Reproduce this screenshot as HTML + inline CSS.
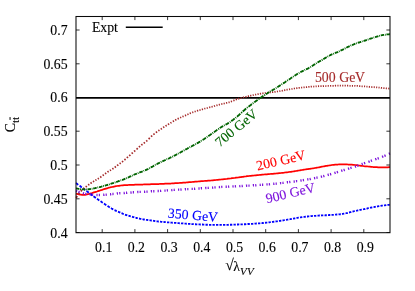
<!DOCTYPE html>
<html><head><meta charset="utf-8"><title>plot</title>
<style>html,body{margin:0;padding:0;background:#fff;width:415px;height:291px;overflow:hidden}</style></head>
<body>
<svg width="415" height="291" viewBox="0 0 415 291" style="display:block;position:absolute;left:0;top:0;will-change:transform;opacity:0.999">
<path d="M102.2,232.7 v-3.6 M102.2,16.5 v3.6 M134.9,232.7 v-3.6 M134.9,16.5 v3.6 M167.6,232.7 v-3.6 M167.6,16.5 v3.6 M200.3,232.7 v-3.6 M200.3,16.5 v3.6 M233.0,232.7 v-3.6 M233.0,16.5 v3.6 M265.7,232.7 v-3.6 M265.7,16.5 v3.6 M298.4,232.7 v-3.6 M298.4,16.5 v3.6 M331.1,232.7 v-3.6 M331.1,16.5 v3.6 M363.8,232.7 v-3.6 M363.8,16.5 v3.6 M76.0,232.5 h3.6 M390.0,232.5 h-3.6 M76.0,198.8 h3.6 M390.0,198.8 h-3.6 M76.0,165.0 h3.6 M390.0,165.0 h-3.6 M76.0,131.2 h3.6 M390.0,131.2 h-3.6 M76.0,97.5 h3.6 M390.0,97.5 h-3.6 M76.0,63.8 h3.6 M390.0,63.8 h-3.6 M76.0,30.0 h3.6 M390.0,30.0 h-3.6" stroke="#000" stroke-width="0.8" fill="none"/>
<path d="M76.0,97.8 H390.0" stroke="#000" stroke-width="1.7" fill="none"/>
<path d="M125.8,27.2 H162.7" stroke="#000" stroke-width="1.6" fill="none"/>
<g fill="none" stroke-linejoin="round" clip-path="url(#cp)">
<path d="M76.0,193.6 L77.0,193.9 L78.0,194.2 L79.0,194.4 L80.0,194.6 L81.0,194.7 L82.0,194.8 L83.0,194.9 L84.0,194.9 L85.0,194.8 L86.0,194.6 L87.0,194.4 L88.0,194.2 L89.0,194.0 L90.0,193.7 L91.0,193.4 L92.0,193.1 L93.0,192.7 L94.0,192.4 L95.0,192.1 L96.0,191.8 L97.0,191.5 L98.0,191.1 L99.0,190.8 L100.0,190.5 L101.0,190.2 L102.0,189.9 L103.0,189.5 L104.0,189.2 L105.0,188.9 L106.0,188.6 L107.0,188.3 L108.0,188.0 L109.0,187.7 L110.0,187.5 L111.0,187.2 L112.0,187.0 L113.0,186.8 L114.0,186.6 L115.0,186.4 L116.0,186.2 L117.0,186.0 L118.0,185.9 L119.0,185.8 L120.0,185.6 L121.0,185.5 L122.0,185.4 L123.0,185.3 L124.0,185.2 L125.0,185.1 L126.0,185.1 L127.0,185.0 L128.0,185.0 L129.0,184.9 L130.0,184.9 L131.0,184.9 L132.0,184.8 L133.0,184.8 L134.0,184.8 L135.0,184.7 L136.0,184.7 L137.0,184.7 L138.0,184.6 L139.0,184.6 L140.0,184.6 L141.0,184.5 L142.0,184.5 L143.0,184.5 L144.0,184.4 L145.0,184.4 L146.0,184.4 L147.0,184.3 L148.0,184.3 L149.0,184.3 L150.0,184.3 L151.0,184.2 L152.0,184.2 L153.0,184.2 L154.0,184.1 L155.0,184.1 L156.0,184.1 L157.0,184.0 L158.0,184.0 L159.0,184.0 L160.0,183.9 L161.0,183.9 L162.0,183.8 L163.0,183.8 L164.0,183.8 L165.0,183.7 L166.0,183.7 L167.0,183.6 L168.0,183.6 L169.0,183.5 L170.0,183.5 L171.0,183.5 L172.0,183.4 L173.0,183.4 L174.0,183.3 L175.0,183.2 L176.0,183.2 L177.0,183.1 L178.0,183.1 L179.0,183.0 L180.0,182.9 L181.0,182.8 L182.0,182.8 L183.0,182.7 L184.0,182.6 L185.0,182.5 L186.0,182.5 L187.0,182.4 L188.0,182.3 L189.0,182.2 L190.0,182.1 L191.0,182.1 L192.0,182.0 L193.0,181.9 L194.0,181.8 L195.0,181.7 L196.0,181.6 L197.0,181.6 L198.0,181.5 L199.0,181.4 L200.0,181.3 L201.0,181.2 L202.0,181.2 L203.0,181.1 L204.0,181.0 L205.0,180.9 L206.0,180.9 L207.0,180.8 L208.0,180.7 L209.0,180.6 L210.0,180.6 L211.0,180.5 L212.0,180.4 L213.0,180.3 L214.0,180.2 L215.0,180.1 L216.0,180.0 L217.0,179.9 L218.0,179.8 L219.0,179.7 L220.0,179.6 L221.0,179.5 L222.0,179.4 L223.0,179.3 L224.0,179.2 L225.0,179.1 L226.0,179.0 L227.0,178.9 L228.0,178.7 L229.0,178.6 L230.0,178.5 L231.0,178.4 L232.0,178.2 L233.0,178.1 L234.0,178.0 L235.0,177.9 L236.0,177.7 L237.0,177.6 L238.0,177.5 L239.0,177.3 L240.0,177.2 L241.0,177.1 L242.0,176.9 L243.0,176.8 L244.0,176.6 L245.0,176.5 L246.0,176.4 L247.0,176.2 L248.0,176.1 L249.0,176.0 L250.0,175.9 L251.0,175.8 L252.0,175.7 L253.0,175.6 L254.0,175.5 L255.0,175.4 L256.0,175.3 L257.0,175.2 L258.0,175.1 L259.0,175.0 L260.0,174.9 L261.0,174.8 L262.0,174.7 L263.0,174.6 L264.0,174.5 L265.0,174.4 L266.0,174.3 L267.0,174.3 L268.0,174.2 L269.0,174.1 L270.0,174.0 L271.0,173.9 L272.0,173.8 L273.0,173.8 L274.0,173.7 L275.0,173.6 L276.0,173.5 L277.0,173.4 L278.0,173.3 L279.0,173.2 L280.0,173.1 L281.0,173.0 L282.0,172.9 L283.0,172.8 L284.0,172.7 L285.0,172.5 L286.0,172.4 L287.0,172.3 L288.0,172.2 L289.0,172.0 L290.0,171.9 L291.0,171.8 L292.0,171.6 L293.0,171.5 L294.0,171.3 L295.0,171.1 L296.0,171.0 L297.0,170.8 L298.0,170.6 L299.0,170.5 L300.0,170.3 L301.0,170.1 L302.0,170.0 L303.0,169.8 L304.0,169.6 L305.0,169.5 L306.0,169.3 L307.0,169.2 L308.0,169.1 L309.0,168.9 L310.0,168.8 L311.0,168.6 L312.0,168.5 L313.0,168.3 L314.0,168.2 L315.0,168.0 L316.0,167.8 L317.0,167.6 L318.0,167.5 L319.0,167.3 L320.0,167.1 L321.0,166.9 L322.0,166.7 L323.0,166.5 L324.0,166.3 L325.0,166.1 L326.0,165.9 L327.0,165.8 L328.0,165.6 L329.0,165.5 L330.0,165.3 L331.0,165.2 L332.0,165.0 L333.0,164.9 L334.0,164.8 L335.0,164.7 L336.0,164.6 L337.0,164.5 L338.0,164.5 L339.0,164.4 L340.0,164.3 L341.0,164.3 L342.0,164.3 L343.0,164.3 L344.0,164.3 L345.0,164.4 L346.0,164.4 L347.0,164.4 L348.0,164.5 L349.0,164.5 L350.0,164.6 L351.0,164.7 L352.0,164.7 L353.0,164.8 L354.0,164.9 L355.0,165.0 L356.0,165.1 L357.0,165.2 L358.0,165.3 L359.0,165.5 L360.0,165.6 L361.0,165.8 L362.0,165.9 L363.0,166.0 L364.0,166.2 L365.0,166.3 L366.0,166.3 L367.0,166.4 L368.0,166.5 L369.0,166.6 L370.0,166.7 L371.0,166.8 L372.0,166.9 L373.0,167.0 L374.0,167.0 L375.0,167.1 L376.0,167.2 L377.0,167.2 L378.0,167.3 L379.0,167.3 L380.0,167.3 L381.0,167.3 L382.0,167.3 L383.0,167.3 L384.0,167.3 L385.0,167.3 L386.0,167.3 L387.0,167.3 L388.0,167.3 L389.0,167.2 L390.0,167.2" stroke="#ff0000" stroke-width="1.75"/>
<path d="M76.0,183.1L76.6,183.5L77.2,183.9L77.7,184.4L78.3,184.8M79.5,185.7L80.1,186.1L80.7,186.5L81.2,187.0L81.8,187.4M83.0,188.3L83.6,188.7L84.2,189.2L84.7,189.6L85.3,190.0M86.5,190.9L87.1,191.4L87.7,191.8L88.2,192.3L88.8,192.7M90.0,193.6L90.6,194.1L91.2,194.5L91.7,195.0L92.3,195.4M93.5,196.3L94.1,196.7L94.7,197.1L95.2,197.6L95.8,198.0M97.0,198.8L97.6,199.2L98.2,199.6L98.7,200.0L99.3,200.4M100.5,201.2L101.1,201.6L101.7,202.0L102.2,202.4L102.8,202.8M104.0,203.6L104.6,204.0L105.2,204.4L105.7,204.8L106.3,205.2M107.5,205.9L108.1,206.3L108.7,206.7L109.2,207.0L109.8,207.4M111.0,208.1L111.6,208.5L112.2,208.8L112.7,209.1L113.3,209.4M114.5,210.1L115.1,210.3L115.7,210.6L116.2,210.9L116.8,211.1M118.0,211.7L118.6,211.9L119.2,212.2L119.7,212.4L120.3,212.7M121.5,213.2L122.1,213.4L122.7,213.7L123.2,213.9L123.8,214.1M125.0,214.6L125.6,214.8L126.2,215.0L126.7,215.1L127.3,215.3M128.5,215.7L129.1,215.9L129.7,216.0L130.2,216.2L130.8,216.4M132.0,216.7L132.6,216.9L133.2,217.1L133.7,217.2L134.3,217.4M135.5,217.7L136.1,217.8L136.7,218.0L137.2,218.1L137.8,218.2M139.0,218.5L139.6,218.6L140.2,218.8L140.7,218.9L141.3,219.0M142.5,219.2L143.1,219.3L143.7,219.5L144.2,219.5L144.8,219.6M146.0,219.8L146.6,219.9L147.2,219.9L147.7,220.0L148.3,220.1M149.5,220.2L150.1,220.3L150.7,220.4L151.2,220.5L151.8,220.5M153.0,220.7L153.6,220.8L154.2,220.9L154.7,221.0L155.3,221.1M156.5,221.3L157.1,221.3L157.7,221.4L158.2,221.5L158.8,221.5M160.0,221.6L160.6,221.7L161.2,221.8L161.7,221.8L162.3,221.9M163.5,222.0L164.1,222.0L164.7,222.1L165.2,222.1L165.8,222.2M167.0,222.3L167.6,222.3L168.2,222.4L168.7,222.4L169.3,222.4M170.5,222.5L171.1,222.6L171.7,222.6L172.2,222.7L172.8,222.7M174.0,222.8L174.6,222.8L175.2,222.9L175.7,222.9L176.3,223.0M177.5,223.1L178.1,223.1L178.7,223.1L179.2,223.2L179.8,223.2M181.0,223.3L181.6,223.4L182.2,223.4L182.7,223.4L183.3,223.5M184.5,223.6L185.1,223.6L185.7,223.6L186.2,223.7L186.8,223.7M188.0,223.8L188.6,223.8L189.2,223.9L189.7,223.9L190.3,224.0M191.5,224.0L192.1,224.1L192.7,224.1L193.2,224.1L193.8,224.2M195.0,224.2L195.6,224.2L196.2,224.3L196.7,224.3L197.3,224.3M198.5,224.4L199.1,224.4L199.7,224.4L200.2,224.5L200.8,224.5M202.0,224.5L202.6,224.5L203.2,224.6L203.7,224.6L204.3,224.6M205.5,224.7L206.1,224.7L206.7,224.7L207.2,224.7L207.8,224.7M209.0,224.8L209.6,224.8L210.2,224.8L210.7,224.8L211.3,224.8M212.5,224.8L213.1,224.8L213.7,224.8L214.2,224.8L214.8,224.8M216.0,224.8L216.6,224.8L217.2,224.8L217.7,224.8L218.3,224.8M219.5,224.8L220.1,224.8L220.7,224.8L221.2,224.8L221.8,224.8M223.0,224.8L223.6,224.8L224.2,224.8L224.7,224.8L225.3,224.8M226.5,224.8L227.1,224.8L227.7,224.8L228.2,224.8L228.8,224.7M230.0,224.7L230.6,224.7L231.2,224.7L231.7,224.7L232.3,224.6M233.5,224.6L234.1,224.6L234.7,224.6L235.2,224.6L235.8,224.5M237.0,224.5L237.6,224.5L238.2,224.5L238.7,224.4L239.3,224.4M240.5,224.4L241.1,224.4L241.7,224.3L242.2,224.3L242.8,224.3M244.0,224.2L244.6,224.2L245.2,224.2L245.7,224.2L246.3,224.1M247.5,224.1L248.1,224.0L248.7,224.0L249.2,224.0L249.8,224.0M251.0,223.9L251.6,223.9L252.2,223.8L252.7,223.8L253.3,223.7M254.5,223.7L255.1,223.6L255.7,223.6L256.2,223.5L256.8,223.5M258.0,223.4L258.6,223.4L259.1,223.3L259.7,223.3L260.3,223.2M261.5,223.1L262.1,223.1L262.6,223.0L263.2,223.0L263.8,222.9M265.0,222.8L265.6,222.7L266.1,222.7L266.7,222.6L267.3,222.6M268.5,222.4L269.1,222.3L269.6,222.3L270.2,222.2L270.8,222.1M272.0,222.0L272.6,221.9L273.1,221.8L273.7,221.7L274.3,221.7M275.5,221.5L276.1,221.4L276.6,221.3L277.2,221.3L277.8,221.2M279.0,221.0L279.6,220.9L280.1,220.8L280.7,220.7L281.3,220.7M282.5,220.5L283.1,220.4L283.6,220.3L284.2,220.2L284.8,220.1M286.0,219.9L286.6,219.8L287.1,219.7L287.7,219.6L288.3,219.5M289.5,219.3L290.1,219.2L290.6,219.1L291.2,219.0L291.8,218.9M293.0,218.7L293.6,218.6L294.1,218.5L294.7,218.4L295.3,218.3M296.5,218.0L297.1,217.9L297.6,217.8L298.2,217.7L298.8,217.6M300.0,217.4L300.6,217.3L301.1,217.3L301.7,217.2L302.3,217.1M303.5,216.9L304.1,216.9L304.6,216.8L305.2,216.7L305.8,216.7M307.0,216.5L307.6,216.5L308.1,216.4L308.7,216.3L309.3,216.3M310.5,216.2L311.1,216.1L311.6,216.1L312.2,216.0L312.8,216.0M314.0,215.9L314.6,215.8L315.1,215.8L315.7,215.8L316.3,215.7M317.5,215.6L318.1,215.6L318.6,215.6L319.2,215.5L319.8,215.5M321.0,215.5L321.6,215.4L322.1,215.4L322.7,215.4L323.3,215.4M324.5,215.3L325.1,215.3L325.6,215.2L326.2,215.2L326.8,215.2M328.0,215.1L328.6,215.1L329.1,215.0L329.7,215.0L330.3,215.0M331.5,214.9L332.1,214.9L332.6,214.8L333.2,214.8L333.8,214.8M335.0,214.7L335.6,214.6L336.1,214.6L336.7,214.5L337.3,214.5M338.5,214.4L339.1,214.3L339.6,214.3L340.2,214.2L340.8,214.2M342.0,214.0L342.6,213.9L343.1,213.8L343.7,213.7L344.3,213.6M345.5,213.3L346.1,213.2L346.6,213.1L347.2,213.0L347.8,212.8M349.0,212.5L349.6,212.4L350.1,212.2L350.7,212.1L351.3,211.9M352.5,211.6L353.1,211.5L353.6,211.3L354.2,211.2L354.8,211.1M356.0,210.8L356.6,210.7L357.1,210.6L357.7,210.4L358.3,210.3M359.5,210.1L360.1,209.9L360.6,209.8L361.2,209.7L361.8,209.6M363.0,209.3L363.6,209.2L364.1,209.1L364.7,209.0L365.3,208.8M366.5,208.6L367.1,208.5L367.6,208.4L368.2,208.2L368.8,208.1M370.0,207.9L370.6,207.7L371.1,207.6L371.7,207.5L372.3,207.4M373.5,207.1L374.1,207.0L374.6,206.9L375.2,206.8L375.8,206.7M377.0,206.5L377.6,206.4L378.1,206.3L378.7,206.2L379.3,206.1M380.5,205.9L381.1,205.8L381.6,205.7L382.2,205.6L382.8,205.6M384.0,205.4L384.6,205.3L385.1,205.3L385.7,205.2L386.3,205.1M387.5,205.0L388.1,204.9L388.6,204.8L389.2,204.8L389.8,204.7" stroke="#0000ff" stroke-width="1.85"/>
<path d="M76.0,198.0L76.6,197.0L77.2,196.1M78.4,194.3L79.0,193.5L79.6,192.8M80.8,191.3L81.4,190.7L82.0,190.1M83.3,188.9L83.8,188.4L84.4,188.0M85.7,186.9L86.3,186.5L86.8,186.0M88.1,185.1L88.7,184.7L89.3,184.3M90.5,183.4L91.1,183.0L91.7,182.6M92.9,181.8L93.5,181.5L94.1,181.1M95.4,180.4L95.9,180.0L96.5,179.7M97.8,178.9L98.4,178.5L98.9,178.2M100.2,177.4L100.8,177.0L101.4,176.6M102.6,175.6L103.2,175.2L103.8,174.8M105.0,173.8L105.6,173.4L106.2,173.0M107.5,172.1L108.0,171.7L108.6,171.3M109.9,170.6L110.5,170.2L111.0,169.9M112.3,169.1L112.9,168.7L113.5,168.3M114.7,167.4L115.3,167.0L115.9,166.6M117.1,165.7L117.7,165.2L118.3,164.8M119.6,163.8L120.1,163.4L120.7,162.9M122.0,161.9L122.6,161.5L123.1,161.0M124.4,159.9L125.0,159.5L125.6,159.0M126.8,157.9L127.4,157.4L128.0,156.9M129.2,155.8L129.8,155.3L130.4,154.8M131.7,153.7L132.2,153.2L132.8,152.6M134.1,151.5L134.7,151.0L135.2,150.5M136.5,149.3L137.1,148.8L137.7,148.2M138.9,147.1L139.5,146.6L140.1,146.1M141.3,145.2L141.9,144.7L142.5,144.3M143.8,143.4L144.3,142.9L144.9,142.4M146.2,141.3L146.8,140.8L147.3,140.3M148.6,139.0L149.2,138.5L149.8,137.9M151.0,136.7L151.6,136.2L152.2,135.7M153.4,134.6L154.0,134.1L154.6,133.6M155.9,132.6L156.4,132.2L157.0,131.7M158.3,130.8L158.9,130.4L159.4,130.0M160.7,129.1L161.3,128.8L161.9,128.4M163.1,127.6L163.7,127.2L164.3,126.9M165.5,126.1L166.1,125.7L166.7,125.4M168.0,124.6L168.5,124.2L169.1,123.8M170.4,123.1L171.0,122.7L171.5,122.4M172.8,121.6L173.4,121.2L174.0,120.9M175.2,120.2L175.8,119.8L176.4,119.5M177.6,118.9L178.2,118.6L178.8,118.3M180.1,117.7L180.6,117.5L181.2,117.2M182.5,116.7L183.1,116.4L183.6,116.2M184.9,115.6L185.5,115.4L186.1,115.1M187.3,114.5L187.9,114.3L188.5,114.0M189.7,113.5L190.3,113.2L190.9,113.0M192.2,112.5L192.7,112.3L193.3,112.1M194.6,111.7L195.2,111.5L195.7,111.3M197.0,110.9L197.6,110.7L198.2,110.5M199.4,110.1L200.0,110.0L200.6,109.8M201.8,109.5L202.4,109.3L203.0,109.1M204.3,108.8L204.8,108.6L205.4,108.5M206.7,108.1L207.3,108.0L207.8,107.8M209.1,107.5L209.7,107.3L210.3,107.2M211.5,106.8L212.1,106.7L212.7,106.5M213.9,106.2L214.5,106.0L215.1,105.8M216.4,105.5L216.9,105.3L217.5,105.1M218.8,104.8L219.4,104.6L219.9,104.5M221.2,104.1L221.8,104.0L222.4,103.9M223.6,103.6L224.2,103.5L224.8,103.3M226.0,103.0L226.6,102.9L227.2,102.8M228.5,102.4L229.0,102.3L229.6,102.1M230.9,101.7L231.5,101.4L232.0,101.2M233.3,100.6L233.9,100.4L234.5,100.1M235.7,99.6L236.3,99.4L236.9,99.2M238.1,98.9L238.7,98.7L239.3,98.5M240.6,98.1L241.1,98.0L241.7,97.8M243.0,97.5L243.6,97.3L244.1,97.2M245.4,96.9L246.0,96.8L246.6,96.6M247.8,96.3L248.4,96.2L249.0,96.1M250.2,95.8L250.8,95.6L251.4,95.5M252.7,95.2L253.2,95.1L253.8,95.0M255.1,94.7L255.7,94.6L256.2,94.5M257.5,94.2L258.1,94.1L258.7,94.0M259.9,93.8L260.5,93.7L261.1,93.6M262.3,93.4L262.9,93.3L263.5,93.2M264.8,93.1L265.3,93.0L265.9,92.9M267.2,92.8L267.8,92.7L268.3,92.7M269.6,92.5L270.2,92.4L270.8,92.4M272.0,92.2L272.6,92.2L273.2,92.1M274.4,92.0L275.0,91.9L275.6,91.8M276.9,91.6L277.4,91.5L278.0,91.4M279.3,91.2L279.9,91.1L280.4,91.0M281.7,90.8L282.3,90.7L282.9,90.5M284.1,90.3L284.7,90.2L285.3,90.1M286.5,89.8L287.1,89.7L287.7,89.6M289.0,89.4L289.5,89.3L290.1,89.2M291.4,89.0L292.0,88.9L292.5,88.8M293.8,88.6L294.4,88.5L295.0,88.4M296.2,88.3L296.8,88.2L297.4,88.1M298.6,87.9L299.2,87.8L299.8,87.8M301.1,87.6L301.6,87.5L302.2,87.5M303.5,87.4L304.1,87.3L304.6,87.2M305.9,87.1L306.5,87.1L307.1,87.0M308.3,86.9L308.9,86.8L309.5,86.8M310.7,86.7L311.3,86.6L311.9,86.6M313.2,86.5L313.7,86.5L314.3,86.4M315.6,86.4L316.2,86.3L316.7,86.3M318.0,86.3L318.6,86.2L319.1,86.2M320.4,86.1L321.0,86.1L321.6,86.1M322.8,86.1L323.4,86.0L324.0,86.0M325.3,86.0L325.8,86.0L326.4,85.9M327.7,85.9L328.3,85.9L328.8,85.9M330.1,85.9L330.7,85.8L331.2,85.8M332.5,85.8L333.1,85.8L333.7,85.8M334.9,85.8L335.5,85.7L336.1,85.7M337.4,85.7L337.9,85.7L338.5,85.7M339.8,85.7L340.4,85.7L340.9,85.7M342.2,85.7L342.8,85.7L343.3,85.7M344.6,85.7L345.2,85.7L345.8,85.7M347.0,85.7L347.6,85.7L348.2,85.7M349.5,85.8L350.0,85.8L350.6,85.8M351.9,85.8L352.5,85.8L353.0,85.8M354.3,85.8L354.9,85.8L355.4,85.9M356.7,85.9L357.3,85.9L357.9,86.0M359.1,86.1L359.7,86.1L360.3,86.1M361.6,86.2L362.1,86.3L362.7,86.3M364.0,86.4L364.6,86.4L365.1,86.5M366.4,86.5L367.0,86.6L367.5,86.6M368.8,86.7L369.4,86.8L370.0,86.8M371.2,86.9L371.8,87.0L372.4,87.0M373.7,87.2L374.2,87.2L374.8,87.3M376.1,87.4L376.7,87.4L377.2,87.5M378.5,87.6L379.1,87.6L379.6,87.7M380.9,87.8L381.5,87.9L382.1,87.9M383.3,88.0L383.9,88.1L384.5,88.1M385.8,88.2L386.3,88.3L386.9,88.3M388.2,88.4L388.8,88.5L389.3,88.5" stroke="#a52a2a" stroke-width="1.75"/>
<path d="M76.0,188.4L76.6,188.5L77.1,188.6L77.7,188.7L78.3,188.8L78.8,188.9L79.4,188.9M80.2,189.0L80.6,189.1L81.0,189.1M81.8,189.2L82.3,189.3L82.9,189.3L83.5,189.4L84.0,189.4L84.6,189.5L85.2,189.5M86.0,189.5L86.3,189.5L86.7,189.5M87.5,189.4L88.1,189.3L88.6,189.2L89.2,189.2L89.8,189.1L90.3,189.0L90.9,188.9M91.7,188.7L92.1,188.7L92.5,188.6M93.2,188.5L93.8,188.4L94.4,188.3L95.0,188.2L95.5,188.0L96.1,187.9L96.7,187.8M97.5,187.6L97.8,187.5L98.2,187.4M99.0,187.2L99.6,187.1L100.1,187.0L100.7,186.8L101.3,186.7L101.8,186.5L102.4,186.4M103.2,186.1L103.6,186.0L104.0,185.9M104.8,185.7L105.3,185.5L105.9,185.3L106.5,185.2L107.0,185.0L107.6,184.8L108.2,184.6M109.0,184.4L109.3,184.3L109.7,184.1M110.5,183.9L111.1,183.7L111.6,183.5L112.2,183.3L112.8,183.1L113.3,183.0L113.9,182.8M114.7,182.5L115.1,182.4L115.5,182.3M116.2,182.0L116.8,181.8L117.4,181.6L118.0,181.4L118.5,181.2L119.1,181.0L119.7,180.8M120.5,180.5L120.8,180.4L121.2,180.3M122.0,180.0L122.6,179.8L123.1,179.6L123.7,179.4L124.3,179.1L124.8,178.9L125.4,178.7M126.2,178.4L126.6,178.2L127.0,178.0M127.8,177.6L128.3,177.4L128.9,177.1L129.4,176.8L130.0,176.5L130.6,176.3L131.2,176.0M132.0,175.6L132.3,175.5L132.7,175.3M133.5,174.9L134.1,174.7L134.6,174.5L135.2,174.2L135.8,174.0L136.3,173.8L136.9,173.5M137.7,173.2L138.1,173.1L138.5,172.9M139.3,172.6L139.8,172.4L140.4,172.2L141.0,172.0L141.5,171.8L142.1,171.6L142.7,171.4M143.5,171.1L143.8,170.9L144.2,170.8M145.0,170.4L145.6,170.2L146.1,169.9L146.7,169.6L147.3,169.3L147.8,169.1L148.4,168.8M149.2,168.4L149.6,168.2L150.0,168.0M150.8,167.6L151.3,167.2L151.9,166.9L152.5,166.6L153.0,166.3L153.6,165.9L154.2,165.6M155.0,165.1L155.3,164.9L155.7,164.7M156.5,164.3L157.1,164.0L157.6,163.7L158.2,163.4L158.8,163.1L159.3,162.8L159.9,162.5M160.7,162.1L161.1,161.9L161.5,161.7M162.3,161.3L162.8,161.1L163.4,160.8L164.0,160.6L164.5,160.3L165.1,160.1L165.7,159.8M166.5,159.5L166.8,159.3L167.2,159.2M168.0,158.8L168.6,158.5L169.1,158.3L169.7,158.0L170.3,157.7L170.8,157.4L171.4,157.1M172.2,156.7L172.6,156.6L173.0,156.4M173.8,156.0L174.3,155.7L174.9,155.4L175.5,155.1L176.0,154.8L176.6,154.5L177.2,154.2M178.0,153.7L178.3,153.5L178.7,153.3M179.5,152.9L180.1,152.6L180.6,152.3L181.2,151.9L181.8,151.6L182.3,151.3L182.9,151.0M183.7,150.5L184.1,150.3L184.5,150.1M185.3,149.7L185.8,149.4L186.4,149.1L187.0,148.8L187.5,148.5L188.1,148.1L188.7,147.8M189.5,147.4L189.8,147.2L190.2,147.0M191.0,146.6L191.6,146.3L192.1,146.0L192.7,145.7L193.3,145.4L193.8,145.1L194.4,144.8M195.2,144.4L195.6,144.2L196.0,144.0M196.8,143.5L197.3,143.2L197.9,142.9L198.5,142.6L199.0,142.2L199.6,141.9L200.2,141.5M201.0,141.1L201.3,140.8L201.7,140.6M202.5,140.1L203.1,139.7L203.6,139.3L204.2,139.0L204.8,138.6L205.3,138.2L205.9,137.8M206.7,137.3L207.1,137.0L207.5,136.8M208.3,136.2L208.8,135.8L209.4,135.4L210.0,135.0L210.5,134.6L211.1,134.2L211.7,133.8M212.5,133.3L212.8,133.0L213.2,132.7M214.0,132.2L214.6,131.8L215.1,131.4L215.7,130.9L216.3,130.5L216.8,130.1L217.4,129.7M218.2,129.1L218.6,128.9L219.0,128.6M219.8,128.1L220.3,127.7L220.9,127.3L221.5,127.0L222.0,126.6L222.6,126.3L223.2,126.0M224.0,125.6L224.3,125.4L224.7,125.2M225.5,124.7L226.1,124.4L226.6,124.1L227.2,123.8L227.8,123.4L228.3,123.1L228.9,122.8M229.7,122.2L230.1,122.0L230.5,121.7M231.3,121.2L231.8,120.8L232.4,120.3L233.0,119.9L233.5,119.5L234.1,119.0L234.7,118.6M235.5,118.0L235.8,117.7L236.2,117.4M237.0,116.7L237.6,116.2L238.1,115.7L238.7,115.2L239.3,114.7L239.8,114.2L240.4,113.7M241.2,112.9L241.6,112.6L242.0,112.2M242.8,111.5L243.3,111.0L243.9,110.5L244.5,110.0L245.0,109.5L245.6,109.0L246.2,108.6M247.0,107.9L247.3,107.6L247.7,107.3M248.5,106.7L249.1,106.3L249.6,105.8L250.2,105.4L250.8,105.0L251.3,104.5L251.9,104.1M252.7,103.5L253.1,103.2L253.5,103.0M254.3,102.4L254.8,101.9L255.4,101.5L256.0,101.1L256.5,100.7L257.1,100.3L257.7,99.9M258.5,99.3L258.8,99.0L259.2,98.7M260.0,98.2L260.6,97.8L261.1,97.4L261.7,97.0L262.3,96.6L262.8,96.2L263.4,95.8M264.2,95.3L264.6,95.1L265.0,94.8M265.8,94.3L266.3,93.9L266.9,93.6L267.5,93.2L268.0,92.8L268.6,92.5L269.2,92.1M270.0,91.7L270.3,91.4L270.7,91.2M271.5,90.7L272.1,90.4L272.6,90.1L273.2,89.7L273.8,89.4L274.3,89.1L274.9,88.7M275.7,88.2L276.1,88.0L276.5,87.8M277.3,87.3L277.8,86.9L278.4,86.5L279.0,86.2L279.5,85.8L280.1,85.4L280.7,85.1M281.5,84.6L281.8,84.3L282.2,84.1M283.0,83.5L283.6,83.2L284.1,82.8L284.7,82.4L285.3,82.0L285.8,81.6L286.4,81.2M287.2,80.7L287.6,80.4L288.0,80.2M288.8,79.6L289.3,79.3L289.9,78.9L290.5,78.5L291.0,78.1L291.6,77.7L292.2,77.3M293.0,76.8L293.3,76.6L293.7,76.3M294.5,75.8L295.1,75.4L295.6,75.1L296.2,74.7L296.8,74.4L297.3,74.0L297.9,73.7M298.7,73.2L299.1,73.0L299.5,72.8M300.3,72.3L300.8,72.0L301.4,71.7L302.0,71.4L302.5,71.1L303.1,70.8L303.7,70.5M304.5,70.2L304.8,70.0L305.2,69.8M306.0,69.4L306.6,69.2L307.1,68.9L307.7,68.6L308.3,68.3L308.8,68.0L309.4,67.7M310.2,67.2L310.6,67.0L311.0,66.8M311.8,66.3L312.3,65.9L312.9,65.5L313.5,65.1L314.0,64.7L314.6,64.4L315.2,64.0M316.0,63.5L316.3,63.3L316.7,63.0M317.5,62.6L318.1,62.2L318.6,61.9L319.2,61.5L319.8,61.2L320.3,60.9L320.9,60.5M321.7,60.1L322.1,59.9L322.5,59.6M323.3,59.2L323.8,58.9L324.4,58.5L325.0,58.2L325.5,57.8L326.1,57.5L326.7,57.2M327.5,56.7L327.8,56.5L328.2,56.3M329.0,55.8L329.6,55.5L330.1,55.2L330.7,55.0L331.3,54.7L331.8,54.4L332.4,54.2M333.2,53.8L333.6,53.7L334.0,53.5M334.8,53.2L335.3,53.0L335.9,52.7L336.5,52.5L337.0,52.3L337.6,52.1L338.2,51.8M339.0,51.5L339.3,51.3L339.7,51.1M340.5,50.7L341.1,50.4L341.6,50.2L342.2,49.9L342.8,49.6L343.3,49.3L343.9,49.0M344.7,48.6L345.1,48.4L345.5,48.2M346.3,47.8L346.8,47.5L347.4,47.2L348.0,46.9L348.5,46.7L349.1,46.4L349.7,46.1M350.5,45.8L350.8,45.6L351.2,45.4M352.0,45.1L352.6,44.8L353.1,44.6L353.7,44.3L354.3,44.1L354.8,43.9L355.4,43.7M356.2,43.4L356.6,43.3L357.0,43.2M357.8,42.9L358.3,42.7L358.9,42.5L359.5,42.3L360.0,42.2L360.6,42.0L361.2,41.8M362.0,41.6L362.3,41.4L362.7,41.3M363.5,41.1L364.1,40.9L364.6,40.7L365.2,40.5L365.8,40.3L366.3,40.1L366.9,39.9M367.7,39.6L368.1,39.5L368.5,39.4M369.3,39.1L369.8,38.9L370.4,38.7L371.0,38.5L371.5,38.3L372.1,38.2L372.7,38.0M373.5,37.7L373.8,37.6L374.2,37.5M375.0,37.2L375.6,37.0L376.1,36.8L376.7,36.6L377.3,36.5L377.8,36.3L378.4,36.1M379.2,35.9L379.6,35.8L380.0,35.7M380.8,35.5L381.3,35.3L381.9,35.2L382.5,35.1L383.0,35.0L383.6,34.9L384.2,34.8M385.0,34.7L385.3,34.7L385.7,34.6M386.5,34.5L387.1,34.4L387.6,34.4L388.2,34.3L388.8,34.3L389.3,34.2L389.9,34.2" stroke="#006400" stroke-width="1.85"/>
<path d="M76.0,190.6L76.4,190.8L76.8,191.0L77.2,191.1M78.4,191.6L78.8,191.8L79.2,192.0L79.6,192.1M82.8,193.2L83.2,193.3L83.6,193.4L84.0,193.5M85.2,193.7L85.6,193.8L86.0,193.9L86.4,193.9M89.6,194.4L90.0,194.4L90.4,194.5L90.8,194.5M92.0,194.7L92.4,194.7L92.8,194.8L93.2,194.8M96.4,195.0L96.8,195.0L97.2,195.0L97.6,195.0M98.8,195.0L99.2,195.0L99.6,195.0L100.0,195.0M103.2,194.8L103.6,194.8L104.0,194.8L104.4,194.7M105.6,194.6L106.0,194.6L106.4,194.6L106.8,194.5M110.0,194.2L110.4,194.2L110.8,194.2L111.2,194.1M112.4,194.0L112.8,194.0L113.2,193.9L113.6,193.9M116.8,193.6L117.2,193.5L117.6,193.5L118.0,193.5M119.2,193.4L119.6,193.3L120.0,193.3L120.4,193.3M123.6,193.0L124.0,193.0L124.4,193.0L124.8,192.9M126.0,192.8L126.4,192.8L126.8,192.8L127.2,192.7M130.4,192.5L131.0,192.5L131.6,192.4M132.8,192.3L133.4,192.3L134.0,192.3M137.2,192.1L137.8,192.0L138.4,192.0M139.6,191.9L140.2,191.9L140.8,191.9M144.0,191.7L144.6,191.7L145.2,191.6M146.4,191.6L147.0,191.6L147.6,191.5M150.8,191.4L151.4,191.3L152.0,191.3M153.2,191.2L153.8,191.2L154.4,191.2M157.6,191.0L158.2,191.0L158.8,191.0M160.0,190.9L160.6,190.9L161.2,190.8M164.4,190.6L165.0,190.6L165.6,190.6M166.8,190.5L167.4,190.4L168.0,190.4M171.2,190.1L171.8,190.1L172.4,190.0M173.6,189.9L174.2,189.9L174.8,189.8M178.0,189.6L178.6,189.6L179.2,189.6M180.4,189.5L181.0,189.5L181.6,189.4M184.8,189.3L185.4,189.2L186.0,189.2M187.2,189.1L187.8,189.1L188.4,189.1M191.6,188.9L192.2,188.9L192.8,188.9M194.0,188.8L194.6,188.8L195.2,188.7M198.4,188.5L199.0,188.5L199.6,188.5M200.8,188.4L201.4,188.3L202.0,188.3M205.2,188.1L205.8,188.0L206.4,188.0M207.6,187.9L208.2,187.9L208.8,187.8M212.0,187.6L212.6,187.6L213.2,187.5M214.4,187.4L215.0,187.4L215.6,187.3M218.8,187.1L219.4,187.1L220.0,187.0M221.2,187.0L221.8,186.9L222.4,186.9M225.6,186.7L226.2,186.7L226.8,186.7M228.0,186.6L228.6,186.6L229.2,186.5M232.4,186.4L233.0,186.4L233.6,186.3M234.8,186.3L235.4,186.3L236.0,186.2M239.2,186.1L239.8,186.1L240.4,186.0M241.6,186.0L242.2,186.0L242.8,185.9M246.0,185.8L246.6,185.7L247.2,185.7M248.4,185.6L249.0,185.6L249.6,185.6M252.8,185.4L253.4,185.3L254.0,185.3M255.2,185.2L255.8,185.2L256.4,185.1M259.6,184.9L260.2,184.9L260.8,184.8M262.0,184.7L262.6,184.7L263.2,184.7M266.4,184.4L267.0,184.4L267.6,184.3M268.8,184.2L269.4,184.2L270.0,184.1M273.2,183.8L273.8,183.8L274.4,183.7M275.6,183.6L276.2,183.6L276.8,183.5M280.0,183.2L280.6,183.1L281.2,183.1M282.4,182.9L283.0,182.9L283.6,182.8M286.8,182.4L287.4,182.3L288.0,182.3M289.2,182.1L289.8,182.0L290.4,181.9M293.6,181.5L294.2,181.5L294.8,181.4M296.0,181.2L296.6,181.1L297.2,181.1M300.4,180.6L301.0,180.5L301.6,180.4M302.8,180.2L303.4,180.1L304.0,180.0M307.2,179.5L307.8,179.4L308.4,179.3M309.6,179.1L310.2,179.0L310.8,178.8M314.0,178.2L314.6,178.1L315.2,178.0M316.4,177.7L317.0,177.6L317.6,177.5M320.8,176.7L321.4,176.6L322.0,176.4M323.2,176.1L323.8,176.0L324.4,175.8M327.6,175.0L328.2,174.8L328.8,174.7M330.0,174.3L330.6,174.2L331.2,174.0M334.4,173.0L335.0,172.8L335.6,172.6M336.8,172.3L337.4,172.1L338.0,171.9M341.2,170.9L341.8,170.7L342.4,170.5M343.6,170.2L344.2,170.0L344.8,169.8M348.0,168.9L348.6,168.7L349.2,168.5M350.4,168.1L351.0,167.9L351.6,167.8M354.8,166.7L355.4,166.5L356.0,166.3M357.2,165.8L357.8,165.6L358.4,165.4M361.6,164.2L362.2,164.0L362.8,163.8M364.0,163.3L364.6,163.1L365.2,162.9M368.4,161.8L369.0,161.6L369.6,161.3M370.8,160.9L371.4,160.7L372.0,160.5M375.2,159.4L375.8,159.2L376.4,158.9M377.6,158.5L378.2,158.3L378.8,158.1M382.0,156.8L382.6,156.6L383.2,156.3M384.4,155.8L385.0,155.6L385.6,155.3M388.8,153.9L389.4,153.7L390.0,153.4" stroke="#7d14dc" stroke-width="2.4"/>
</g>
<defs><clipPath id="cp"><rect x="75.5" y="16.5" width="315.0" height="216.2"/></clipPath></defs>
<rect x="76.0" y="16.5" width="314.0" height="216.2" fill="none" stroke="#0a0a0a" stroke-width="1.05"/>
<g style="font-family:'Liberation Serif',serif;font-size:13.8px" fill="#000" stroke="#000" stroke-width="0.12">
<text x="67.6" y="237.9" text-anchor="end">0.4</text>
<text x="67.6" y="204.1" text-anchor="end">0.45</text>
<text x="67.6" y="169.9" text-anchor="end">0.5</text>
<text x="67.6" y="136" text-anchor="end">0.55</text>
<text x="67.6" y="102.2" text-anchor="end">0.6</text>
<text x="67.6" y="68.6" text-anchor="end">0.65</text>
<text x="67.6" y="34.9" text-anchor="end">0.7</text>
 <text x="103.7" y="251.6" text-anchor="middle">0.1</text>
 <text x="136.4" y="251.6" text-anchor="middle">0.2</text>
 <text x="169.1" y="251.6" text-anchor="middle">0.3</text>
 <text x="201.8" y="251.6" text-anchor="middle">0.4</text>
 <text x="234.5" y="251.6" text-anchor="middle">0.5</text>
 <text x="267.2" y="251.6" text-anchor="middle">0.6</text>
 <text x="299.9" y="251.6" text-anchor="middle">0.7</text>
 <text x="332.6" y="251.6" text-anchor="middle">0.8</text>
 <text x="365.3" y="251.6" text-anchor="middle">0.9</text>
<text x="91.9" y="31.6">Expt</text>
<text x="225.3" y="270.7"><tspan font-size="15.6px" dy="-0.4">√</tspan><tspan dx="-0.7" dy="0.4">λ</tspan><tspan font-size="11px" font-style="italic" dy="4.2" dx="0.2" letter-spacing="0.25">VV</tspan></text>
<text transform="translate(15.4,132.2) rotate(-90)">C<tspan font-size="11px" dy="3.4">tt</tspan></text>
<path d="M10.05,119.9 V117.1" stroke="#000" stroke-width="1.0"/>
<text transform="translate(257.5,170.4) rotate(-13)" fill="#ff0000" stroke="#ff0000">200<tspan dx="0.2"> Ge</tspan><tspan dx="-0.3">V</tspan></text>
<text transform="translate(267.1,203.3) rotate(-13.5)" fill="#7d14dc" stroke="#7d14dc">900<tspan dx="0.2"> Ge</tspan><tspan dx="-0.3">V</tspan></text>
<text transform="translate(167.6,217.5) rotate(5)" fill="#0000ff" stroke="#0000ff">350<tspan dx="0.2"> Ge</tspan><tspan dx="-0.3">V</tspan></text>
<text transform="translate(219.7,147.4) rotate(-39.5)" fill="#006400" stroke="#006400">700<tspan dx="0.2"> Ge</tspan><tspan dx="-0.3">V</tspan></text>
<text x="314.9" y="82.4" fill="#a52a2a" stroke="#a52a2a">500<tspan dx="0.2"> Ge</tspan><tspan dx="-0.3">V</tspan></text>
</g>
</svg>
</body></html>
